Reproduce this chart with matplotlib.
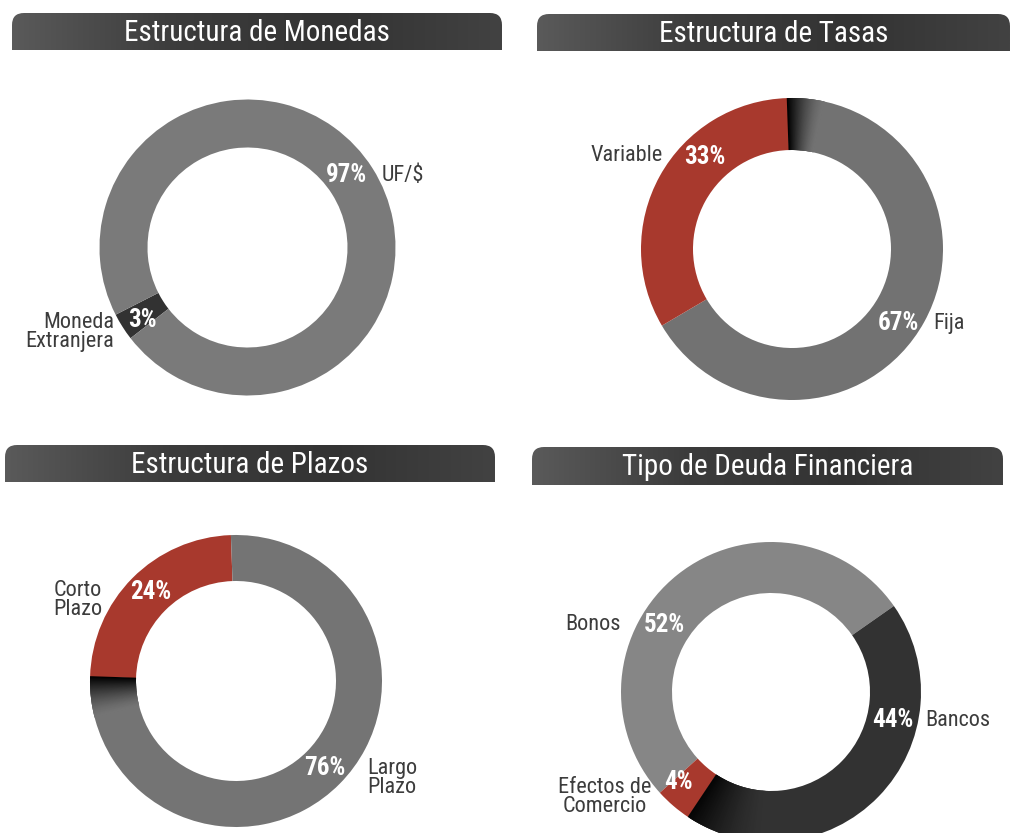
import matplotlib
matplotlib.use('Agg')
import matplotlib.pyplot as plt
import numpy as np
from matplotlib.path import Path
from matplotlib.patches import PathPatch, Wedge
from matplotlib.colors import to_rgb

# data
titles = ['Estructura de Monedas', 'Estructura de Tasas',
          'Estructura de Plazos', 'Tipo de Deuda Financiera']

monedas_labels = ['Moneda\nExtranjera', 'UF/$']
monedas_values = [3, 97]

tasas_labels = ['Fija', 'Variable']
tasas_values = [67, 33]

plazos_labels = ['Corto\nPlazo', 'Largo\nPlazo']
plazos_values = [24, 76]

deuda_labels = ['Bonos', 'Efectos de\nComercio', 'Bancos']
deuda_values = [52, 4, 44]

W, H = 1018, 833
GRAY = '#7a7a7a'
RED = '#a8392d'
DARK = '#323232'
TXT = '#3c3c3c'
FONT = ['Roboto Condensed', 'DejaVu Sans']

fig = plt.figure(figsize=(W / 100, H / 100), dpi=100)
ax = fig.add_axes([0, 0, 1, 1])


def py(y):
    # pixel row from top -> data y
    return H - y


def tab_path(x0, x1, ytop, ybot, r=12):
    y1, y0 = py(ytop), py(ybot)
    verts = [(x0, y0), (x0, y1 - r), (x0, y1), (x0 + r, y1), (x1 - r, y1),
             (x1, y1), (x1, y1 - r), (x1, y0), (x0, y0)]
    codes = [Path.MOVETO, Path.LINETO, Path.CURVE3, Path.CURVE3, Path.LINETO,
             Path.CURVE3, Path.CURVE3, Path.LINETO, Path.CLOSEPOLY]
    return Path(verts, codes)


def title_bar(x0, x1, ytop, ybot, text):
    patch = PathPatch(tab_path(x0, x1, ytop, ybot), facecolor='none', lw=0)
    ax.add_patch(patch)
    grad = np.linspace(0, 1, 256)[None, :]
    img = ax.imshow(grad, cmap=matplotlib.colors.LinearSegmentedColormap.from_list(
        'bar', ['#5a5a5a', '#3c3c3c', '#333333', '#424242']),
        extent=(x0, x1, py(ybot), py(ytop)), aspect='auto', zorder=1)
    img.set_clip_path(patch)
    ax.text((x0 + x1) / 2, py((ytop + ybot) / 2 + 1), text, color='white',
            fontsize=21, ha='center', va='center', family=FONT, zorder=3)


def shade(cx, cy, r, w, a_from, a_to, base, n=40, strength=1.0):
    # dark shading fading from a_from (black) to a_to (base colour)
    base = np.array(to_rgb(base))
    edges = np.linspace(a_from, a_to, n + 1)
    for k in range(n):
        t = k / n
        c = base * (1 - strength * (1 - t) ** 1.5)
        lo, hi = sorted((edges[k], edges[k + 1]))
        ax.add_patch(Wedge((cx, cy), r, lo - 0.3, hi + 0.3, width=w,
                           facecolor=c, lw=0, zorder=2))


def donut(values, colors, cx, cy, r, w, start):
    wedges, _ = ax.pie(values, colors=colors, center=(cx, py(cy)), radius=r,
                       startangle=start, counterclock=True,
                       wedgeprops=dict(width=w, linewidth=0))
    return wedges


def pct(x, y, v):
    ax.text(x, py(y), f'{v}%', color='white', fontsize=18, fontweight='bold',
            ha='center', va='center', family=FONT, zorder=4)


def lab(x, y, s, ha='left', ma=None):
    ax.text(x, py(y), s, color=TXT, fontsize=16, ha=ha, va='center',
            family=FONT, multialignment=ma or ha, linespacing=0.92, zorder=4)


# title bars
title_bar(12, 502, 13, 50, titles[0])
title_bar(537, 1010, 14, 51, titles[1])
title_bar(5, 495, 445, 482, titles[2])
title_bar(532, 1003, 447, 485, titles[3])

# Estructura de Monedas
donut(monedas_values, [DARK, GRAY], 247.5, 247.5, 148, 48, 207)
pct(347, 175, monedas_values[1])
lab(382, 175, monedas_labels[1])
pct(142, 320, monedas_values[0])
lab(114, 332, monedas_labels[0], ha='right')

# Estructura de Tasas
wd = donut(tasas_values, ['#727272', RED], 792, 249, 151, 52, 210.5)
shade(792, py(249), 151, 52, wd[0].theta2, wd[0].theta2 - 14, '#727272')
pct(705, 157, tasas_values[1])
lab(663, 155, tasas_labels[1], ha='right')
pct(898, 323, tasas_values[0])
lab(933, 323, tasas_labels[0])

# Estructura de Plazos
wd = donut(plazos_values, [RED, '#747474'], 236, 681, 146, 46, 92)
shade(236, py(681), 146, 46, wd[1].theta1, wd[1].theta1 + 16, '#747474')
pct(151, 592, plazos_values[0])
lab(102, 600, plazos_labels[0], ha='right', ma='right')
pct(325, 768, plazos_values[1])
lab(392, 778, plazos_labels[1], ha='center')

# Tipo de Deuda Financiera
wd = donut(deuda_values, ['#868686', RED, DARK], 771, 692, 150, 51, 35)
shade(771, py(692), 150, 51, wd[2].theta1, wd[2].theta1 + 30, DARK,
      strength=0.9)
pct(664, 625, deuda_values[0])
lab(621, 625, deuda_labels[0], ha='right')
pct(893, 720, deuda_values[2])
lab(925, 720, deuda_labels[2])
pct(678, 782, deuda_values[1])
lab(605, 797, deuda_labels[1], ha='center')

ax.set_xlim(0, W)
ax.set_ylim(0, H)
ax.set_aspect('auto')
ax.axis('off')

fig.savefig('out.png', dpi=100, facecolor='white')
